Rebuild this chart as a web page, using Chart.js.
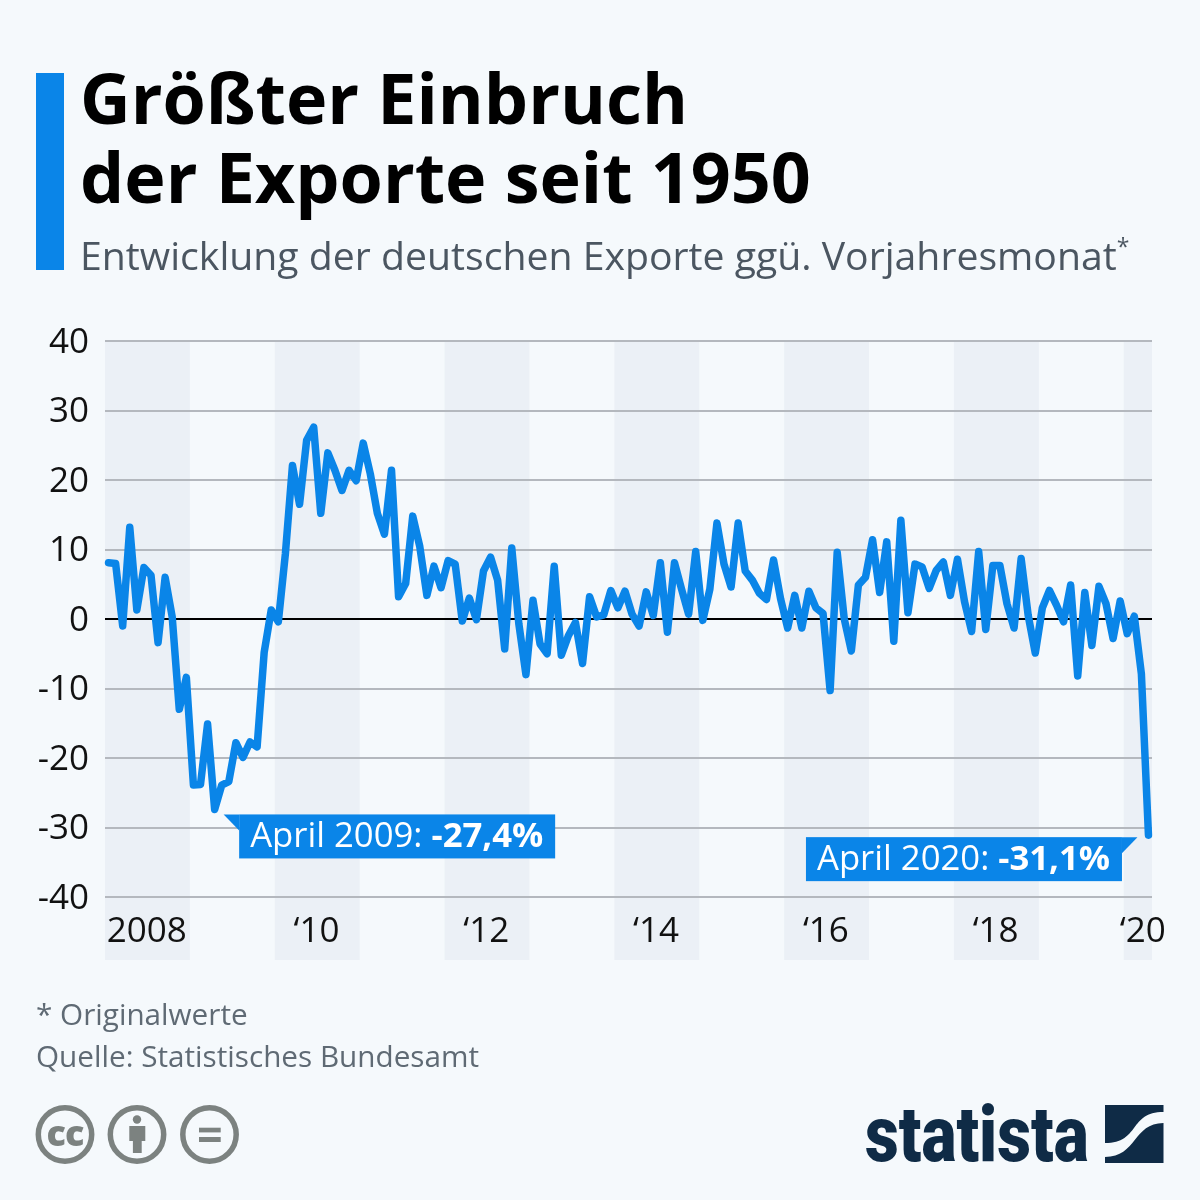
<!DOCTYPE html>
<html lang="de">
<head>
<meta charset="utf-8">
<style>
  html, body { margin: 0; padding: 0; background: #f5f9fc; }
  #page { position: relative; width: 1200px; height: 1200px; overflow: hidden; font-family: "Open Sans", sans-serif; }
  #page canvas { position: absolute; left: 0; top: 0; }
  .abs { position: absolute; white-space: nowrap; }
  #bar { left: 36px; top: 73px; width: 28px; height: 197px; background: #0a85e8; }
  #title { left: 80px; top: 58px; font-size: 70px; line-height: 79px; font-weight: 700; color: #000; }
  #subtitle { left: 80px; top: 230px; font-size: 39.2px; line-height: 50px; color: #4b5661; }
  #subtitle sup { font-size: 23px; line-height: 0; vertical-align: 15px; }
  #note { left: 36px; top: 993px; font-size: 29.7px; line-height: 42px; color: #5f6a74; }
  #wordmark { left: 865px; top: 1090px; font-family: "Roboto", sans-serif; font-weight: 900; font-size: 78px; line-height: 90px; color: #0f2b46; transform-origin: 0 0; transform: scaleX(0.845); }
</style>
</head>
<body>
<div id="page">
  <canvas id="chart" width="1200" height="1200"></canvas>
  <div class="abs" id="bar"></div>
  <div class="abs" id="title">Größter Einbruch<br>der Exporte seit 1950</div>
  <div class="abs" id="subtitle">Entwicklung der deutschen Exporte ggü. Vorjahresmonat<sup>*</sup></div>
  <div class="abs" id="note">* Originalwerte<br>Quelle: Statistisches Bundesamt</div>
  <svg class="abs" style="left:0;top:1090px" width="300" height="90" viewBox="0 1090 300 90">
    <g fill="none" stroke="#7c8280" stroke-width="5.5">
      <circle cx="65" cy="1134.5" r="26.7"/>
      <circle cx="137" cy="1134.5" r="26.7"/>
      <circle cx="209.5" cy="1134.5" r="26.7"/>
    </g>
    <text x="65" y="1146" text-anchor="middle" font-family="Open Sans" font-weight="800" font-size="36" letter-spacing="-1" fill="#7c8280">cc</text>
    <g fill="#7c8280">
      <circle cx="137" cy="1119.5" r="4.2"/>
      <path d="M129.3 1126h16v15h-3.6v12h-8.8v-12h-3.6z"/>
      <rect x="199" y="1127.7" width="21.7" height="4.7"/>
      <rect x="199" y="1137" width="21.7" height="5"/>
    </g>
  </svg>
  <div class="abs" id="wordmark">statista</div>
  <svg class="abs" style="left:1100px;top:1100px" width="70" height="70" viewBox="1100 1100 70 70">
    <path fill="#0f2b46" d="M1105 1105h58.500v7c-35 0-23 31-58.500 31z"/>
    <path fill="#0f2b46" d="M1163.500 1123v40h-58.500v-6c32 0 28-34 58.500-34z"/>
  </svg>
</div>
<script src="https://cdn.jsdelivr.net/npm/chart.js@4/dist/chart.umd.min.js"></script>
<script>
// monthly change vs. same month of previous year, Jan 2008 - Apr 2020
const values = [
  8.1,8.0,-1.0,13.2,1.3,7.4,6.3,-3.4,6.0,0.3,-13.0,-8.4,
  -23.9,-23.8,-15.1,-27.4,-23.9,-23.4,-17.8,-19.9,-17.7,-18.4,-4.8,1.3,
  -0.4,9.4,22.1,16.5,25.7,27.6,15.2,23.9,21.4,18.5,21.4,19.9,
  25.3,20.9,15.2,12.2,21.4,3.2,5.1,14.8,10.4,3.4,7.6,4.5,
  8.4,7.9,-0.3,3.0,-0.1,6.9,8.9,5.6,-4.3,10.2,-0.7,-8.0,
  2.7,-3.6,-5.0,7.6,-5.2,-2.4,-0.5,-6.4,3.2,0.3,0.6,4.1,
  1.6,4.0,0.7,-1.0,3.9,0.5,8.1,-1.9,8.1,4.3,0.7,9.7,
  -0.2,4.3,13.8,7.9,4.6,13.8,6.9,5.6,3.7,2.8,8.5,2.9,
  -1.3,3.4,-1.3,4.0,1.6,0.8,-10.3,9.6,0.0,-4.6,4.9,6.0,
  11.4,3.8,11.1,-3.2,14.2,0.9,7.9,7.5,4.4,7.0,8.2,3.4,
  8.6,2.5,-1.8,9.7,-1.5,7.7,7.7,2.2,-1.3,8.7,0.5,-4.9,
  1.6,4.1,2.0,-0.4,4.9,-8.2,3.8,-3.8,4.7,2.2,-2.8,2.6,
  -2.1,0.4,-7.9,-31.1
];
const tickPositions = [5.4,29.4,53.4,77.4,101.4,125.4,146.2];
const tickLabels = ['2008','‘10','‘12','‘14','‘16','‘18','‘20'];
const bandStarts = [-0.5,23.5,47.5,71.5,95.5,119.5,143.5];
const bandEnds = [11.5,35.5,59.5,83.5,107.5,131.5,147.5];
const callouts = [
  { index: 15, label: 'April 2009: ', value: '-27,4%', side: 'right' },
  { index: 147, label: 'April 2020: ', value: '-31,1%', side: 'left' }
];

const BLUE = '#0a85e8';
Chart.defaults.font.family = '"Open Sans", sans-serif';

const bandsPlugin = {
  id: 'bands',
  beforeDraw(chart) {
    const { ctx, chartArea, scales } = chart;
    ctx.save();
    ctx.fillStyle = '#ebf0f6';
    bandStarts.forEach((s, i) => {
      const x0 = scales.x.getPixelForValue(s);
      const x1 = scales.x.getPixelForValue(bandEnds[i]);
      ctx.fillRect(x0, chartArea.top, x1 - x0, chartArea.bottom + 63 - chartArea.top);
    });
    ctx.restore();
  }
};

const calloutPlugin = {
  id: 'callouts',
  afterDatasetsDraw(chart) {
    const { ctx, scales } = chart;
    ctx.save();
    callouts.forEach(c => {
      const px = scales.x.getPixelForValue(c.index);
      const py = scales.y.getPixelForValue(values[c.index]);
      const w = 316, h = 44;
      const right = c.side === 'right';
      const top = right ? py + 5 : py + 2;
      const left = right ? px + 24.5 : px - 342.5;
      const edge = right ? left : left + w;
      const dir = right ? -1 : 1;
      ctx.fillStyle = BLUE;
      ctx.fillRect(left, top, w, h);
      ctx.beginPath();
      ctx.moveTo(edge, top);
      ctx.lineTo(edge + dir * 15.5, top);
      ctx.lineTo(edge, top + 16);
      ctx.closePath();
      ctx.fill();
      ctx.fillStyle = '#fff';
      ctx.textBaseline = 'alphabetic';
      ctx.textAlign = 'left';
      ctx.font = '34.7px "Open Sans"';
      const lw = ctx.measureText(c.label).width;
      ctx.fillText(c.label, left + 11, top + 33);
      ctx.font = '700 34.7px "Open Sans"';
      ctx.fillText(c.value, left + 11 + lw, top + 33);
    });
    ctx.restore();
  }
};

new Chart(document.getElementById('chart'), {
  type: 'line',
  data: {
    datasets: [{
      data: values.map((v, i) => ({ x: i, y: v })),
      borderColor: BLUE,
      borderWidth: 7.5,
      borderJoinStyle: 'round',
      borderCapStyle: 'round',
      pointRadius: 0,
      tension: 0,
      clip: false
    }]
  },
  options: {
    responsive: false,
    animation: false,
    layout: { padding: { left: 0, top: 341, right: 48, bottom: 243 } },
    plugins: { legend: { display: false }, title: { display: false }, tooltip: { enabled: false } },
    scales: {
      x: {
        type: 'linear',
        min: -0.5,
        max: 147.5,
        grid: { display: false },
        border: { display: false },
        afterFit(s) { s.height = 60; },
        afterBuildTicks(s) { s.ticks = tickPositions.map(value => ({ value })); },
        ticks: {
          autoSkip: false,
          maxRotation: 0,
          padding: 6,
          color: '#111',
          font: { size: 35 },
          callback: v => tickLabels[tickPositions.indexOf(v)]
        }
      },
      y: {
        min: -40,
        max: 40,
        border: { display: false },
        afterFit(s) { s.width = 105; },
        grid: {
          drawTicks: false,
          lineWidth: 2,
          color: c => c.tick.value === 0 ? '#000' : '#b4b8be'
        },
        ticks: {
          stepSize: 10,
          padding: 16,
          labelOffset: 2,
          color: '#111',
          font: { size: 35 }
        }
      }
    }
  },
  plugins: [bandsPlugin, calloutPlugin]
});
</script>
</body>
</html>
